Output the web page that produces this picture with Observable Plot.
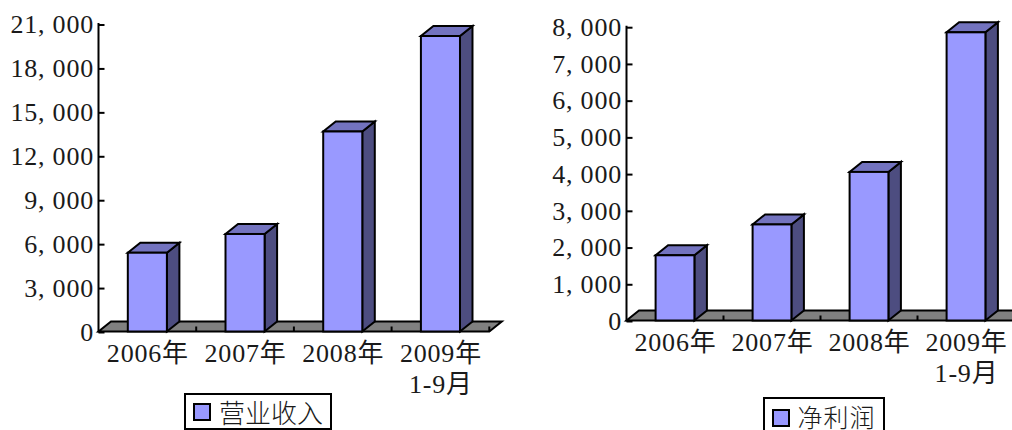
<!DOCTYPE html>
<html><head><meta charset="utf-8">
<script src="https://cdn.jsdelivr.net/npm/d3@7"></script>
<script src="https://cdn.jsdelivr.net/npm/@observablehq/plot@0.6"></script>
<style>
html,body{margin:0;padding:0;background:#fff;width:1012px;height:430px;overflow:hidden}
#page{position:relative;width:1012px;height:430px;overflow:hidden;font-family:"Liberation Serif","Noto Sans CJK SC",serif}
.chart{position:absolute;top:0}
.chart svg{display:block;overflow:hidden;background:transparent}
.legend{position:absolute;box-sizing:border-box;border:2px solid #000;background:#fff;font-size:26px;line-height:1;color:#1a1a1a;display:flex;align-items:center;font-family:"Noto Sans CJK SC",sans-serif;font-weight:300}
.legend i{display:block;width:18px;height:18px;box-sizing:border-box;border:2px solid #000;background:#9999ff;margin:0 8px 0 7px;flex:none}
.legend span{display:block;height:26px}
.legend.open{border-bottom:none;align-items:flex-end;font-size:25px}
.legend.open span{height:25px;margin-bottom:1px;letter-spacing:1px}
.legend.open i{margin-bottom:3px}
</style></head><body>
<div id="page"></div>
<script>
const categories = ["2006年","2007年","2008年","2009年\n1-9月"];
const revenueValues = [5380, 6660, 13660, 20180];
const profitValues = [1776, 2616, 4046, 7847];
const revenueTicks = [0,3000,6000,9000,12000,15000,18000,21000];
const profitTicks = [0,1000,2000,3000,4000,5000,6000,7000,8000];
const revenueLegend = "营业收入";
const profitLegend = "净利润";

const FONT = '"Liberation Serif","Noto Sans CJK SC",serif';
const FRONT="#9999ff", SIDE="#4d4d80", TOP="#7373bf", FLOOR="#808080";
const DX=12.5, DY=10, OUTER=0.3;
const fmt = v => d3.format(",")(v).replace(",", ", ");

function chart({values, ticks, yMax, left, svgWidth, step, top, bottom}){
  const rows = categories.map((c,i)=>({c, v:values[i]}));
  const poly = (g, pts, fill) => g.append("polygon").attr("points", pts.map(p=>p.join(",")).join(" "))
    .attr("fill",fill).attr("stroke","#000").attr("stroke-width",2).attr("stroke-linejoin","miter");
  const floor = (i, s) => {
    const g = d3.create("svg:g");
    const st = s.x(categories[1]) - s.x(categories[0]);
    const xL = s.x(categories[0]) - OUTER*st;
    const xR = s.x(categories[categories.length-1]) + s.x.bandwidth() + OUTER*st;
    const y0 = s.y(0);
    poly(g, [[xL,y0],[xR,y0],[xR+DX,y0-DY],[xL+DX,y0-DY]], FLOOR);
    categories.forEach((c,k)=>{
      const x = xL + (k+1)*st;
      g.append("line").attr("x1",x).attr("x2",x).attr("y1",y0).attr("y2",y0-5).attr("stroke","#000").attr("stroke-width",2);
    });
    return g.node();
  };
  const faces = (i, s) => {
    const g = d3.create("svg:g");
    const w = s.x.bandwidth(), y0 = s.y(0);
    rows.forEach(r=>{
      const x = s.x(r.c), y = s.y(r.v);
      poly(g, [[x+w,y0],[x+w,y],[x+w+DX,y-DY],[x+w+DX,y0-DY]], SIDE);
      poly(g, [[x,y],[x+w,y],[x+w+DX,y-DY],[x+DX,y-DY]], TOP);
    });
    return g.node();
  };
  const axisLine = (i, s) => {
    const st = s.x(categories[1]) - s.x(categories[0]);
    const xL = s.x(categories[0]) - OUTER*st;
    return d3.create("svg:line").attr("x1",xL).attr("x2",xL).attr("y1",s.y(0)+1).attr("y2",s.y(yMax)-1)
      .attr("stroke","#000").attr("stroke-width",2).node();
  };
  return Plot.plot({
    width: svgWidth, height: 430,
    marginLeft:left, marginRight:0, marginTop:top, marginBottom:430-bottom,
    style:{fontFamily:FONT, fontSize:"26px", color:"#1a1a1a", background:"transparent", letterSpacing:"0.8px"},
    x:{domain:categories, range:[left, left+4*step], paddingInner:0.6, paddingOuter:OUTER, round:false, label:null},
    y:{domain:[0,yMax], label:null},
    marks:[
      floor,
      faces,
      Plot.barY(rows,{x:"c", y:"v", fill:FRONT, stroke:"#000", strokeWidth:2}),
      axisLine,
      Plot.axisY({ticks, tickFormat:fmt, tickSize:-6, tickPadding:11, stroke:"#000", strokeWidth:2, label:null, dy:0.5, fill:"#1a1a1a"}),
      Plot.axisX({tickSize:0, tickPadding:8, label:null, lineHeight:1.2, fill:"#1a1a1a", tickFormat:d=>d})
    ]
  });
}
const page = document.getElementById("page");
function place(node, x){ const d=document.createElement("div"); d.className="chart"; d.style.left=x+"px"; d.appendChild(node); page.appendChild(d); }
place(chart({values:revenueValues, ticks:revenueTicks, yMax:21000, left:98.5, svgWidth:510, step:97.7, top:24, bottom:331.5}), 0);
place(chart({values:profitValues, ticks:profitTicks, yMax:8000, left:116.5, svgWidth:502, step:97, top:26.7, bottom:320.5}), 510);
function legend(text, x, y, w, h, cls){
  const d=document.createElement("div"); d.className="legend "+(cls||"");
  d.style.cssText=`left:${x}px;top:${y}px;width:${w}px;height:${h}px`;
  d.innerHTML=`<i></i><span>${text}</span>`; page.appendChild(d);
}
legend(revenueLegend,184,393,148,37);
legend(profitLegend,762.5,397,122,33,"open");
</script></body></html>
